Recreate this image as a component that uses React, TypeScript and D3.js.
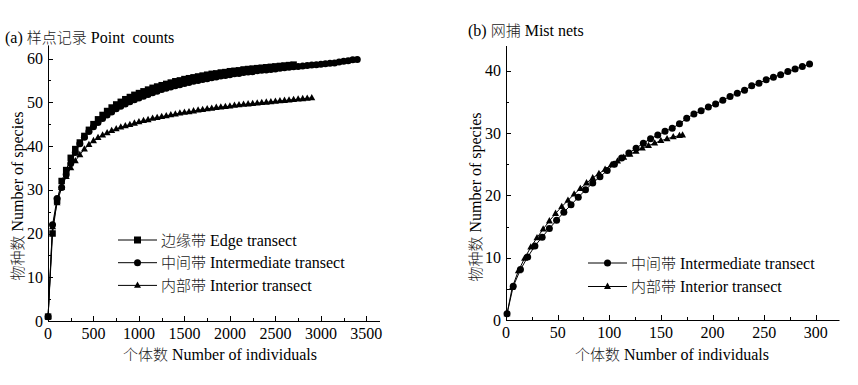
import React from "react";
import * as d3 from "d3";

// ---------- Data ----------
// (a) Point counts: individuals sampled (rarefaction steps)
const leftN = [1, 50, 100, 150, 200, 250, 300, 350, 400, 450, 500, 550, 600, 650, 700, 750, 800, 850, 900, 950,
  1000, 1050, 1100, 1150, 1200, 1250, 1300, 1350, 1400, 1450, 1500, 1550, 1600, 1650, 1700, 1750, 1800, 1850, 1900, 1950,
  2000, 2050, 2100, 2150, 2200, 2250, 2300, 2350, 2400, 2450, 2500, 2550, 2600, 2650, 2700, 2750, 2800, 2850, 2900, 2950,
  3000, 3050, 3100, 3150, 3200, 3250, 3300, 3350, 3400];
const edgeSpecies = [1, 20, 27.5, 32, 34.5, 37.3, 39.3, 40.8, 42.3, 43.7, 45, 46.1, 47.1, 48, 48.8, 49.5, 50.1, 50.7, 51.2, 51.7,
  52.1, 52.5, 52.9, 53.3, 53.6, 53.9, 54.2, 54.5, 54.8, 55.0, 55.3, 55.5, 55.7, 55.9, 56.1, 56.3, 56.5, 56.6, 56.8, 56.9,
  57.1, 57.2, 57.3, 57.5, 57.6, 57.7, 57.8, 57.9, 58.0, 58.1, 58.2, 58.3, 58.4, 58.5, 58.6];
const intermediateSpecies = [1, 22, 28, 30.5, 33.5, 36, 38.5, 40.5, 42, 43.3, 44.4, 45.4, 46.3, 47.1, 47.8, 48.5, 49.1, 49.6, 50.1, 50.6,
  51.0, 51.4, 51.8, 52.2, 52.5, 52.9, 53.2, 53.5, 53.8, 54.0, 54.3, 54.5, 54.8, 55.0, 55.2, 55.4, 55.6, 55.8, 56.0, 56.1,
  56.3, 56.5, 56.6, 56.8, 56.9, 57.0, 57.2, 57.3, 57.4, 57.5, 57.6, 57.8, 57.9, 58.0, 58.1, 58.2, 58.3, 58.4, 58.5, 58.6,
  58.7, 58.8, 58.9, 59.0, 59.2, 59.4, 59.5, 59.7, 59.8];
const interiorSpecies = [1, 21.5, 27, 30.5, 33, 35, 36.6, 38, 39.3, 40.3, 41.2, 41.9, 42.5, 43.0, 43.5, 43.9, 44.3, 44.6, 44.9, 45.2,
  45.5, 45.8, 46.0, 46.3, 46.5, 46.7, 46.9, 47.1, 47.3, 47.5, 47.7, 47.8, 48.0, 48.2, 48.3, 48.5, 48.6, 48.8, 48.9, 49.0,
  49.1, 49.3, 49.4, 49.5, 49.6, 49.7, 49.8, 49.9, 50.0, 50.1, 50.2, 50.3, 50.4, 50.5, 50.6, 50.7, 50.8, 50.9, 51.0];

// (b) Mist nets
const netsNIntermediate = [1, 7, 14, 21, 28, 35, 42, 49, 56, 63, 70, 77, 84, 91, 98, 105, 112, 119, 126, 133, 140,
  147, 154, 161, 168, 175, 182, 189, 196, 203, 210, 217, 224, 231, 238, 245, 252, 259, 266, 273, 280, 287, 294];
const netsIntermediate = [1, 5.4, 8.1, 10.1, 11.9, 13.3, 14.7, 16.0, 17.3, 18.5, 19.7, 20.9, 22.0, 23.0, 24.0, 25.0, 26.0, 26.8, 27.6, 28.4, 29.1,
  29.7, 30.3, 30.8, 31.5, 32.4, 33.1, 33.6, 34.2, 34.7, 35.3, 35.9, 36.4, 36.9, 37.6, 38.0, 38.6, 39.0, 39.4, 39.9, 40.3, 40.7, 41.1];
const netsNInterior = [1, 6, 12, 18, 24, 30, 36, 42, 48, 54, 60, 66, 72, 78, 84, 90, 96, 102, 108, 114, 120,
  126, 132, 138, 144, 150, 156, 162, 168, 171];
const netsInterior = [1, 5.2, 7.9, 9.9, 11.7, 13.2, 14.6, 15.9, 17.1, 18.2, 19.2, 20.2, 21.1, 22.0, 22.8, 23.5, 24.2, 24.9, 25.5, 26.1, 26.6,
  27.1, 27.6, 28.0, 28.4, 28.8, 29.1, 29.4, 29.6, 29.7];

const leftXTicks = [0, 500, 1000, 1500, 2000, 2500, 3000, 3500];
const leftYTicks = [0, 10, 20, 30, 40, 50, 60];
const rightXTicks = [0, 50, 100, 150, 200, 250, 300];
const rightYTicks = [0, 10, 20, 30, 40];

// [Chinese part, English part]
const leftLegend: [string, string][] = [["边缘带", " Edge transect"], ["中间带", " Intermediate transect"], ["内部带", " Interior transect"]];
const rightLegend: [string, string][] = [["中间带", " Intermediate transect"], ["内部带", " Interior transect"]];
const titleA: [string, string] = ["样点记录", " Point  counts"];
const titleB: [string, string] = ["网捕", " Mist nets"];
const xTitle: [string, string] = ["个体数", " Number of individuals"];
const yTitle: [string, string] = ["物种数", " Number of species"];

const FONT = '"Liberation Serif", "DejaVu Serif", serif';
const CJK = '"Noto Sans CJK SC", sans-serif';

type Shape = "square" | "circle" | "triangle";

function Marker({ shape, x, y, s }: { shape: Shape; x: number; y: number; s: number }) {
  if (shape === "square") return <rect x={x - s / 2} y={y - s / 2} width={s} height={s} fill="#000" />;
  if (shape === "circle") return <circle cx={x} cy={y} r={s / 2} fill="#000" />;
  const h = s * 0.9;
  return <path d={`M${x},${y - h * 0.62}L${x + s / 2},${y + h * 0.38}L${x - s / 2},${y + h * 0.38}Z`} fill="#000" />;
}

function Series({ xs, ys, sx, sy, shape, s }: any) {
  const pts: [number, number][] = ys.map((v: number, i: number) => [sx(xs[i]), sy(v)]);
  const line = d3.line()(pts) || "";
  return (
    <g>
      <path d={line} fill="none" stroke="#000" strokeWidth={1} />
      {pts.map((p, i) => (
        <Marker key={i} shape={shape} x={p[0]} y={p[1]} s={s} />
      ))}
    </g>
  );
}

const txt = (size: number) => ({ fontFamily: FONT, fontSize: size + "px" });

function Mixed({ parts, size, ...rest }: any) {
  return (
    <text {...rest} style={txt(size)} fill="#000" xmlSpace="preserve">
      {parts[0].startsWith("(") ? null : null}
      <tspan style={{ fontFamily: CJK, fontWeight: 300, fontSize: size - 1 + "px" }} fill="#222">{parts[0]}</tspan>
      <tspan>{parts[1]}</tspan>
    </text>
  );
}

function Axes({ sx, sy, xTicks, yTicks, xMinorStep, yMinorStep }: any) {
  const [x0, x1] = sx.range();
  const [y0, y1] = sy.range();
  const xDom = sx.domain();
  const yDom = sy.domain();
  const xMinor = d3.range(0, xDom[1] + 1e-9, xMinorStep);
  const yMinor = d3.range(0, yDom[1] + 1e-9, yMinorStep);
  return (
    <g stroke="#000" strokeWidth={1}>
      <line x1={x0} y1={y0 + 0.5} x2={x1} y2={y0 + 0.5} />
      <line x1={x0 + 0.5} y1={y0} x2={x0 + 0.5} y2={y1} />
      {xMinor.map((t: number) => {
        const major = xTicks.includes(t);
        const x = Math.round(sx(t)) + 0.5;
        return <line key={"xm" + t} x1={x} x2={x} y1={y0} y2={y0 - (major ? 5 : 3)} />;
      })}
      {yMinor.map((t: number) => {
        const major = yTicks.includes(t);
        const y = Math.round(sy(t)) + 0.5;
        return <line key={"ym" + t} x1={x0} x2={x0 + (major ? 5 : 3)} y1={y} y2={y} />;
      })}
      <g stroke="none" fill="#000" style={txt(16)}>
        {xTicks.map((t: number) => (
          <text key={"xl" + t} x={sx(t)} y={y0 + 18} textAnchor="middle">{t}</text>
        ))}
        {yTicks.map((t: number) => (
          <text key={"yl" + t} x={x0 - 5} y={sy(t) + 5.5} textAnchor="end">{t}</text>
        ))}
      </g>
    </g>
  );
}

function Legend({ x, y, dy, labels, shapes, s }: any) {
  return (
    <g>
      {labels.map((lab: [string, string], i: number) => {
        const yy = y + i * dy;
        return (
          <g key={lab[1]}>
            <line x1={x} x2={x + 39} y1={yy} y2={yy} stroke="#000" strokeWidth={1} />
            <Marker shape={shapes[i]} x={x + 19.5} y={yy} s={s} />
            <Mixed parts={lab} size={16} x={x + 43} y={yy + 5.5} />
          </g>
        );
      })}
    </g>
  );
}

export default function App() {
  const sxL = d3.scaleLinear().domain([0, 3650]).range([48, 380]);
  const syL = d3.scaleLinear().domain([0, 63]).range([321, 45.4]);
  const sxR = d3.scaleLinear().domain([0, 323]).range([506, 839.5]);
  const syR = d3.scaleLinear().domain([0, 44]).range([320, 46]);

  return (
    <svg width={858} height={385} style={{ position: "absolute", left: 0, top: 0, background: "#fff" }}>
      <rect width={858} height={385} fill="#fff" />
      {/* Panel (a) */}
      <text x={5} y={43} style={txt(16)} fill="#000" xmlSpace="preserve">
        <tspan>(a) </tspan>
        <tspan style={{ fontFamily: CJK, fontWeight: 300, fontSize: "15px" }} fill="#222">{titleA[0]}</tspan>
        <tspan>{titleA[1]}</tspan>
      </text>
      <Axes sx={sxL} sy={syL} xTicks={leftXTicks} yTicks={leftYTicks} xMinorStep={250} yMinorStep={5} />
      <Series xs={leftN} ys={interiorSpecies} sx={sxL} sy={syL} shape="triangle" s={7} />
      <Series xs={leftN} ys={intermediateSpecies} sx={sxL} sy={syL} shape="circle" s={7} />
      <Series xs={leftN} ys={edgeSpecies} sx={sxL} sy={syL} shape="square" s={6.5} />
      <Legend x={118} y={240} dy={22.7} labels={leftLegend} shapes={["square", "circle", "triangle"]} s={7} />
      <Mixed parts={xTitle} size={16} x={220} y={360} textAnchor="middle" />
      <Mixed parts={yTitle} size={16} transform="translate(23,196) rotate(-90)" textAnchor="middle" />

      {/* Panel (b) */}
      <text x={468} y={36} style={txt(16)} fill="#000" xmlSpace="preserve">
        <tspan>(b) </tspan>
        <tspan style={{ fontFamily: CJK, fontWeight: 300, fontSize: "15px" }} fill="#222">{titleB[0]}</tspan>
        <tspan>{titleB[1]}</tspan>
      </text>
      <Axes sx={sxR} sy={syR} xTicks={rightXTicks} yTicks={rightYTicks} xMinorStep={25} yMinorStep={5} />
      <Series xs={netsNInterior} ys={netsInterior} sx={sxR} sy={syR} shape="triangle" s={7} />
      <Series xs={netsNIntermediate} ys={netsIntermediate} sx={sxR} sy={syR} shape="circle" s={7} />
      <Legend x={588} y={263} dy={23.5} labels={rightLegend} shapes={["circle", "triangle"]} s={7} />
      <Mixed parts={xTitle} size={16} x={672} y={360} textAnchor="middle" />
      <Mixed parts={yTitle} size={16} transform="translate(481,197) rotate(-90)" textAnchor="middle" />
    </svg>
  );
}
